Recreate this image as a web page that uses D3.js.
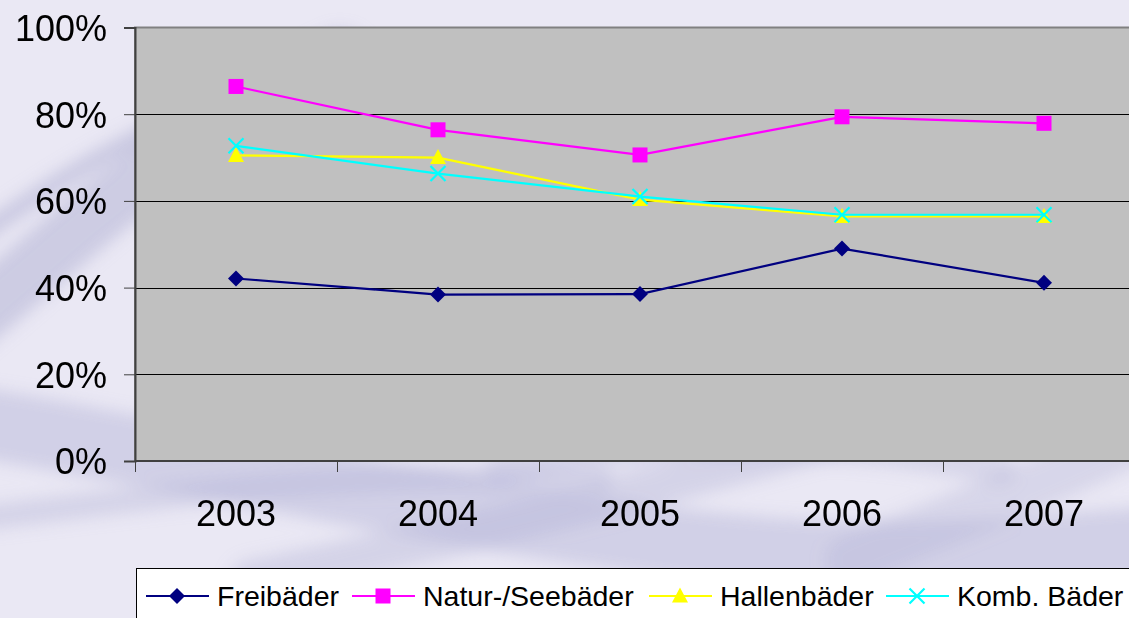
<!DOCTYPE html>
<html>
<head>
<meta charset="utf-8">
<script src="https://cdn.jsdelivr.net/npm/d3@7"></script>
<style>
	html, body { margin: 0; padding: 0; background: #eae8f4; }
	svg { display: block; font-family: Arial, "Liberation Sans", sans-serif; }
</style>
</head>
<body>
<div id="chart"></div>
<script>
/* data */
const years = ["2003", "2004", "2005", "2006", "2007"];
const freibaeder = [0.421, 0.384, 0.385, 0.490, 0.411];
const naturSeebaeder = [0.864, 0.764, 0.706, 0.794, 0.779];
const hallenbaeder = [0.705, 0.700, 0.603, 0.564, 0.564];
const kombBaeder = [0.727, 0.663, 0.610, 0.568, 0.568];
const yTicks = [0, 0.2, 0.4, 0.6, 0.8, 1];

const seriesList = [
	{ name: "Freibäder", values: freibaeder, color: "#000080", symbol: "diamond" },
	{ name: "Natur-/Seebäder", values: naturSeebaeder, color: "#ff00ff", symbol: "square" },
	{ name: "Hallenbäder", values: hallenbaeder, color: "#ffff00", symbol: "triangle" },
	{ name: "Komb. Bäder", values: kombBaeder, color: "#00ffff", symbol: "cross" }
];

const width = 1129, height = 618;
const plot = { left: 135, right: 1145, top: 27.5, bottom: 461 };

const svg = d3.select("#chart").append("svg")
	.attr("width", width)
	.attr("height", height);

/* soft streaky background */
const defs = svg.append("defs");
defs.append("filter").attr("id", "blur")
	.attr("x", "-20%").attr("y", "-50%").attr("width", "140%").attr("height", "200%")
	.append("feGaussianBlur").attr("stdDeviation", 8);

svg.append("rect").attr("width", width).attr("height", height).attr("fill", "#eae8f4");

const streaks = [
	{ d: "M-40,330 C60,250 150,150 340,60", w: 60, o: 0.55 },
	{ d: "M-40,250 C40,190 120,140 240,90", w: 18, o: 0.6 },
	{ d: "M-40,420 C100,440 220,470 520,520 S900,560 1180,540", w: 70, o: 0.45 },
	{ d: "M250,580 C450,540 650,490 900,420", w: 40, o: 0.4 },
	{ d: "M-40,520 C150,500 300,470 600,480", w: 25, o: 0.4 },
	{ d: "M850,560 C950,520 1050,480 1180,420", w: 50, o: 0.35 },
	{ d: "M500,470 C650,440 800,430 1000,470", w: 30, o: 0.35 }
];
svg.append("g").attr("filter", "url(#blur)")
	.selectAll("path").data(streaks).join("path")
	.attr("d", d => d.d)
	.attr("fill", "none")
	.attr("stroke", "#b4b4d6")
	.attr("stroke-width", d => d.w)
	.attr("stroke-linecap", "round")
	.attr("opacity", d => d.o);

/* scales */
const x = d3.scaleBand().domain(years).range([plot.left, plot.right]).padding(0);
const y = d3.scaleLinear().domain([0, 1]).range([plot.bottom, plot.top]);
const cx = d => x(d) + x.bandwidth() / 2;

/* plot area */
svg.append("rect")
	.attr("x", plot.left).attr("y", plot.top)
	.attr("width", plot.right - plot.left).attr("height", plot.bottom - plot.top)
	.attr("fill", "#c0c0c0")
	.attr("stroke", "#808080")
	.attr("stroke-width", 2);

/* gridlines */
svg.append("g").selectAll("line").data(yTicks.filter(t => t > 0 && t < 1)).join("line")
	.attr("x1", plot.left).attr("x2", plot.right)
	.attr("y1", d => Math.round(y(d)) + 0.5).attr("y2", d => Math.round(y(d)) + 0.5)
	.attr("stroke", "#000").attr("stroke-width", 1);

/* y axis */
const yAxis = svg.append("g")
	.attr("transform", `translate(${plot.left},0)`)
	.call(d3.axisLeft(y).tickValues(yTicks).tickFormat(d3.format(".0%")).tickSize(11).tickPadding(17));
yAxis.select(".domain").attr("stroke", "#404040").attr("stroke-width", 2);
yAxis.selectAll(".tick line").attr("stroke", "#404040");
yAxis.selectAll(".tick text")
	.attr("font-size", 36).attr("font-family", "Arial, 'Liberation Sans', sans-serif")
	.attr("fill", "#000").attr("dy", "0.36em");

/* x axis: ticks on band edges, labels in the middle */
const xAxis = svg.append("g").attr("transform", `translate(0,${plot.bottom})`);
xAxis.append("line")
	.attr("x1", plot.left).attr("x2", plot.right)
	.attr("stroke", "#404040").attr("stroke-width", 2);
xAxis.selectAll("line.tick").data(years).join("line")
	.attr("class", "tick")
	.attr("x1", d => Math.round(x(d)) + 0.5).attr("x2", d => Math.round(x(d)) + 0.5)
	.attr("y1", 0).attr("y2", 11)
	.attr("stroke", "#404040");
xAxis.selectAll("text").data(years).join("text")
	.attr("x", cx).attr("y", 65)
	.attr("text-anchor", "middle")
	.attr("font-size", 36)
	.text(d => d);

/* markers */
function drawMarker(sel, symbol, color) {
	if (symbol === "diamond") {
		sel.append("path").attr("d", "M0,-8L8,0L0,8L-8,0Z").attr("fill", color);
	} else if (symbol === "square") {
		sel.append("rect").attr("x", -7.5).attr("y", -7.5).attr("width", 15).attr("height", 15).attr("fill", color);
	} else if (symbol === "triangle") {
		sel.append("path").attr("d", "M0,-8.5L8,6.5L-8,6.5Z").attr("fill", color);
	} else {
		sel.append("path").attr("d", "M-7.5,-7.5L7.5,7.5M7.5,-7.5L-7.5,7.5")
			.attr("stroke", color).attr("stroke-width", 2.2).attr("fill", "none");
	}
}

/* series lines */
const line = d3.line().x(d => cx(d.year)).y(d => y(d.value));
const seriesG = svg.append("g").selectAll("g").data(seriesList).join("g");
seriesG.append("path")
	.attr("d", s => line(years.map((yr, i) => ({ year: yr, value: s.values[i] }))))
	.attr("fill", "none")
	.attr("stroke", s => s.color)
	.attr("stroke-width", 2.2);
seriesG.each(function (s) {
	d3.select(this).selectAll("g.pt").data(s.values).join("g")
		.attr("class", "pt")
		.attr("transform", (v, i) => `translate(${cx(years[i])},${y(v)})`)
		.each(function () { drawMarker(d3.select(this), s.symbol, s.color); });
});

/* legend */
const legendX = [146, 352, 649, 886];
const legend = svg.append("g");
legend.append("rect")
	.attr("x", 136.5).attr("y", 568.5)
	.attr("width", 1100).attr("height", 100)
	.attr("fill", "#fff").attr("stroke", "#000");
const items = legend.selectAll("g").data(seriesList).join("g")
	.attr("transform", (d, i) => `translate(${legendX[i]},596)`);
items.append("line")
	.attr("x1", 0).attr("x2", 63)
	.attr("stroke", d => d.color).attr("stroke-width", 2.2);
items.append("g").attr("transform", "translate(31,0)")
	.each(function (d) { drawMarker(d3.select(this), d.symbol, d.color); });
items.append("text")
	.attr("x", 71).attr("y", 0).attr("dy", "0.36em")
	.attr("font-size", 28.5)
	.text(d => d.name);
</script>
</body>
</html>
